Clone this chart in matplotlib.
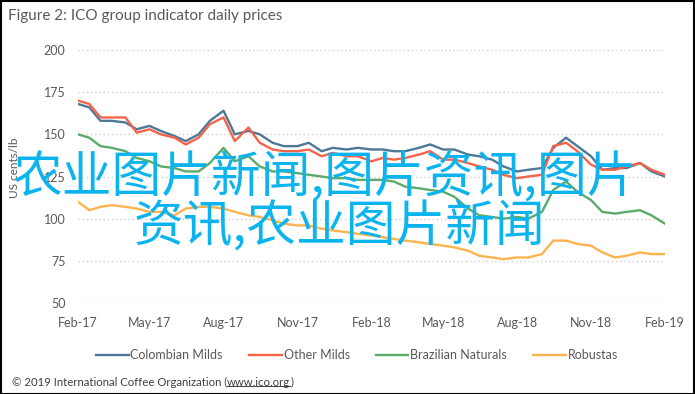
import pandas as pd
import numpy as np
import matplotlib
matplotlib.use('Agg')
import matplotlib.pyplot as plt
import matplotlib.dates as mdates
from matplotlib.lines import Line2D
from matplotlib.patches import Rectangle

# semi-monthly readings, Feb 2017 - Feb 2019 (US cents/lb)
dates = pd.date_range('2017-02-01', periods=49, freq='SMS')

colombian = [168, 166, 158, 158, 157, 153, 155, 152, 149, 146, 150, 158, 164,
             150, 152, 150, 145, 143, 143, 145, 140, 142, 141, 142, 141, 141,
             140, 140, 142, 144, 141, 141, 138, 137, 135, 131, 128, 129, 130,
             142, 148, 143, 137, 129, 130, 130, 133, 128, 125]
other = [170, 168, 160, 160, 160, 151, 153, 150, 148, 144, 148, 156, 160,
         146, 154, 145, 141, 140, 140, 141, 137, 139, 137, 137, 134, 136,
         135, 136, 138, 140, 135, 135, 133, 131, 129, 126, 124, 125, 126,
         143, 145, 140, 132, 129, 129, 131, 133, 129, 126]
brazilian = [150, 148, 143, 142, 140, 136, 134, 131, 130, 128, 128, 133, 142,
             134, 137, 131, 128, 128, 127, 126, 125, 124, 124, 123, 123, 123,
             122, 119, 118, 117, 116, 113, 106, 102, 101, 100, 101, 100, 104,
             117, 122, 116, 111, 104, 103, 104, 105, 102, 97]
robustas = [110, 105, 107, 108, 107, 106, 104, 104, 102, 106, 107, 107, 106,
            104, 102, 101, 99, 97, 96, 96, 94, 93, 92, 91, 90, 89, 88, 87,
            86, 85, 84, 83, 81, 78, 77, 76, 77, 77, 79, 87, 87, 85, 84, 80,
            77, 78, 80, 79, 79]

names = ['Colombian Milds', 'Other Milds', 'Brazilian Naturals', 'Robustas']
colors = ['#4E7996', '#F4644A', '#5BAB6B', '#FDB44E']
yticks = [50, 75, 100, 125, 150, 175, 200]
xtick_dates = pd.date_range('2017-02-01', '2019-02-01', freq='3MS')

W, H = 695, 394
grey = '#595959'
font = 'Lato'

fig = plt.figure(figsize=(W / 100, H / 100), dpi=100)
fig.patch.set_facecolor('white')
ax = fig.add_axes([78 / W, 1 - 303 / H, (665 - 78) / W, (303 - 50) / H])

# gridlines
for v in yticks:
    if v == 50:
        ax.axhline(v, color='#D9D9D9', lw=1.0, zorder=0)
    else:
        ax.axhline(v, color='#D0D0D0', lw=1.0, ls=(0, (1, 2)), zorder=0)

series = [colombian, other, brazilian, robustas]
for vals, name, c in zip(series, names, colors):
    ax.plot(dates, vals, color=c, lw=1.7, label=name)

ax.set_ylim(50, 200)
ax.set_xlim(dates[0], dates[-1])
ax.set_yticks(yticks)
ax.set_xticks(xtick_dates)
ax.xaxis.set_major_formatter(mdates.DateFormatter('%b-%y'))
for s in ax.spines.values():
    s.set_visible(False)
ax.tick_params(length=0, labelcolor=grey, labelsize=9, pad=10)
ax.tick_params(axis='y', pad=9)
for lbl in ax.get_xticklabels() + ax.get_yticklabels():
    lbl.set_family(font)

fig.text(15 / W, 1 - 168 / H, 'US cents/lb', rotation=90, ha='center',
         va='center', color=grey, fontsize=8.5, family=font)

fig.text(8 / W, 1 - 16 / H, 'Figure 2: ICO group indicator daily prices',
         ha='left', va='center', color=grey, fontsize=11, family=font)

leg = ax.legend(loc='center', bbox_to_anchor=(357 / W, 1 - 355 / H),
                bbox_transform=fig.transFigure, ncol=4, frameon=False,
                handlelength=2.6, handletextpad=0.15, columnspacing=2.1,
                prop={'family': font, 'size': 9})
for t in leg.get_texts():
    t.set_color(grey)

# copyright line with underlined link
cs = 8.2
t1 = fig.text(12 / W, 1 - 382 / H, '\u00a9 2019 International Coffee Organization (',
              ha='left', va='center', color='#404040', fontsize=cs, family=font)
t2 = fig.text(0, 0, 'www.ico.org', color='#404040', fontsize=cs, family=font)
t3 = fig.text(0, 0, ')', color='#404040', fontsize=cs, family=font)
fig.canvas.draw()
r = fig.canvas.get_renderer()
b1 = t1.get_window_extent(r)
t2.set_position((b1.x1 / W, t1.get_position()[1]))
t2.set_va('center')
fig.canvas.draw()
b2 = t2.get_window_extent(r)
t3.set_position((b2.x1 / W, t1.get_position()[1]))
t3.set_va('center')
fig.add_artist(Line2D([b2.x0 / W, b2.x1 / W], [(b2.y0 + 1.5) / H] * 2,
                      color='#404040', lw=0.7))

# watermark
wm = '#0BB4EF'
fig.text(12 / W, 1 - 179 / H, '农业图片新闻,图片资讯,图片', ha='left', va='center',
         color=wm, fontsize=35.8, family=['Noto Sans CJK SC', 'DejaVu Sans'])
fig.text(134 / W, 1 - 228 / H, '资讯,农业图片新闻', ha='left', va='center',
         color=wm, fontsize=35.8, family=['Noto Sans CJK SC', 'DejaVu Sans'])

# outer frame
fig.patches.append(Rectangle((0.5 / W, 0.5 / H), 1 - 1.5 / W, 1 - 1.5 / H,
                             transform=fig.transFigure, fill=False,
                             edgecolor='black', lw=1.5))

fig.savefig('out.png', dpi=100)
